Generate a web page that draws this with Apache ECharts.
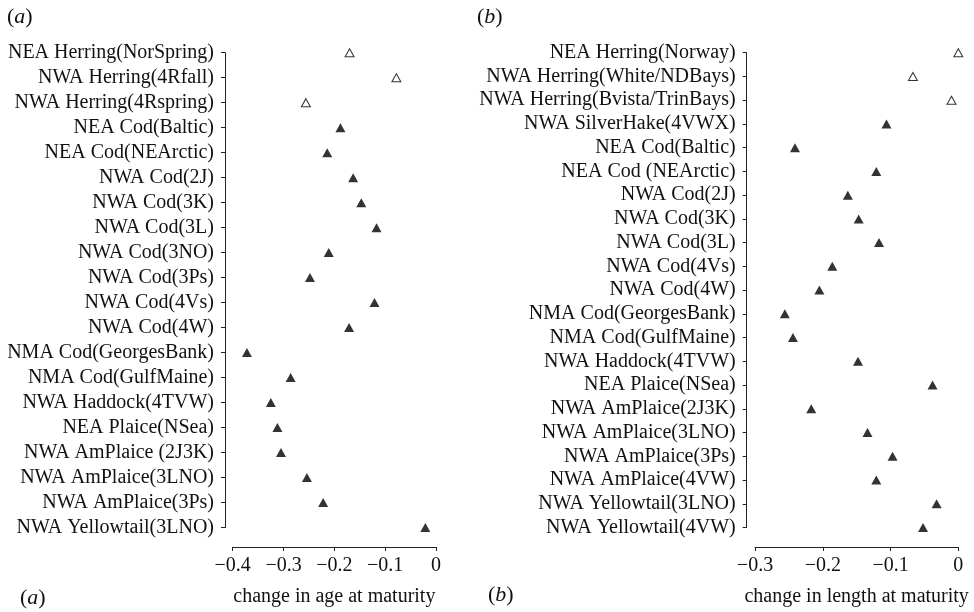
<!DOCTYPE html>
<html>
<head>
<meta charset="utf-8">
<script src="https://cdn.jsdelivr.net/npm/echarts@6/dist/echarts.min.js"></script>
<style>html,body{margin:0;padding:0;background:#fff}#c{width:974px;height:612px}</style>
</head>
<body>
<div id="c"></div>
<script>
var agePopulations = ['NEA Herring(NorSpring)','NWA Herring(4Rfall)','NWA Herring(4Rspring)','NEA Cod(Baltic)','NEA Cod(NEArctic)','NWA Cod(2J)','NWA Cod(3K)','NWA Cod(3L)','NWA Cod(3NO)','NWA Cod(3Ps)','NWA Cod(4Vs)','NWA Cod(4W)','NMA Cod(GeorgesBank)','NMA Cod(GulfMaine)','NWA Haddock(4TVW)','NEA Plaice(NSea)','NWA AmPlaice (2J3K)','NWA AmPlaice(3LNO)','NWA AmPlaice(3Ps)','NWA Yellowtail(3LNO)'];
var ageChange = [-0.170,-0.078,-0.256,-0.188,-0.214,-0.163,-0.147,-0.117,-0.211,-0.248,-0.121,-0.171,-0.372,-0.286,-0.325,-0.312,-0.305,-0.254,-0.222,-0.021];

var lengthPopulations = ['NEA Herring(Norway)','NWA Herring(White/NDBays)','NWA Herring(Bvista/TrinBays)','NWA SilverHake(4VWX)','NEA Cod(Baltic)','NEA Cod (NEArctic)','NWA Cod(2J)','NWA Cod(3K)','NWA Cod(3L)','NWA Cod(4Vs)','NWA Cod(4W)','NMA Cod(GeorgesBank)','NMA Cod(GulfMaine)','NWA Haddock(4TVW)','NEA Plaice(NSea)','NWA AmPlaice(2J3K)','NWA AmPlaice(3LNO)','NWA AmPlaice(3Ps)','NWA AmPlaice(4VW)','NWA Yellowtail(3LNO)','NWA Yellowtail(4VW)'];
var lengthChange = [0.000,-0.067,-0.010,-0.106,-0.241,-0.121,-0.163,-0.147,-0.117,-0.186,-0.205,-0.256,-0.244,-0.148,-0.038,-0.217,-0.134,-0.097,-0.121,-0.032,-0.052];

var ageTicks = [-0.4,-0.3,-0.2,-0.1,0];
var lengthTicks = [-0.3,-0.2,-0.1,0];

function split(names, vals, herring){
  return names.map(function(n,i){ return (n.indexOf('Herring')>=0)===herring ? [vals[i], n] : null; }).filter(function(d){return d;});
}
function fmt(v){ if (v===0) return '0'; return (v<0?'\u2212':'')+Math.abs(v).toFixed(1); }

var FONT = '"Liberation Serif", "Times New Roman", serif';
var txt = {fontFamily: FONT, fontSize: 20, color: '#111'};

function xAxisDef(gi, ticks, name){
  return {
    type:'value', gridIndex:gi, min:ticks[0], max:0, interval:0.1, offset:19.5,
    axisLine:{show:true, onZero:false, lineStyle:{color:'#222', width:1}},
    axisTick:{show:true, inside:false, length:4, lineStyle:{color:'#222'}},
    splitLine:{show:false},
    axisLabel:Object.assign({margin:9, formatter:function(v){return ticks.some(function(t){return Math.abs(t-v)<1e-9;})?fmt(Math.round(v*10)/10):'';}}, txt),
    name:name, nameLocation:'middle', nameGap:40,
    nameTextStyle:Object.assign({}, txt)
  };
}
function yAxisDef(gi, cats, off){
  return {
    type:'category', gridIndex:gi, data:cats, inverse:true, boundaryGap:false, offset:off, position:'left',
    axisLine:{show:true, onZero:false, lineStyle:{color:'#222', width:1}},
    axisTick:{show:true, inside:false, length:4, alignWithLabel:true, lineStyle:{color:'#222'}},
    splitLine:{show:false},
    axisLabel:Object.assign({margin:11, interval:0}, txt)
  };
}
function label(t, left, top){
  return {
    text:'{p|(}{i|'+t+'}{p|)}', left:left, top:top, padding:0,
    textStyle:{fontWeight:'normal', rich:{p:{fontFamily:FONT,fontSize:22,fontWeight:'normal',color:'#111'}, i:{fontFamily:FONT,fontSize:22,fontStyle:'italic',fontWeight:'normal',color:'#111'}}}
  };
}

var chart = echarts.init(document.getElementById('c'), null, {renderer:'canvas'});
chart.setOption({
  animation:false,
  backgroundColor:'#fff',
  title:[label('a',7,6), label('b',477,6), label('a',20,587), label('b',488,584)],
  grid:[
    {left:232.7, top:52.7, width:203.3, height:478, containLabel:false},
    {left:755, top:52.7, width:203.3, height:478, containLabel:false}
  ],
  xAxis:[xAxisDef(0, ageTicks, 'change in age at maturity'), xAxisDef(1, lengthTicks, 'change in length at maturity')],
  yAxis:[yAxisDef(0, agePopulations, 7.7), yAxisDef(1, lengthPopulations, 8.3)],
  series:[
    {type:'scatter', xAxisIndex:0, yAxisIndex:0, data:split(agePopulations, ageChange, false), symbol:'triangle', symbolSize:[10,9], itemStyle:{color:'#000'}, clip:false},
    {type:'scatter', xAxisIndex:0, yAxisIndex:0, data:split(agePopulations, ageChange, true), symbol:'triangle', symbolSize:[9,8], itemStyle:{color:'#fff', borderColor:'#000', borderWidth:1}, clip:false},
    {type:'scatter', xAxisIndex:1, yAxisIndex:1, data:split(lengthPopulations, lengthChange, false), symbol:'triangle', symbolSize:[10,9], itemStyle:{color:'#000'}, clip:false},
    {type:'scatter', xAxisIndex:1, yAxisIndex:1, data:split(lengthPopulations, lengthChange, true), symbol:'triangle', symbolSize:[9,8], itemStyle:{color:'#fff', borderColor:'#000', borderWidth:1}, clip:false}
  ]
});
</script>
</body>
</html>
